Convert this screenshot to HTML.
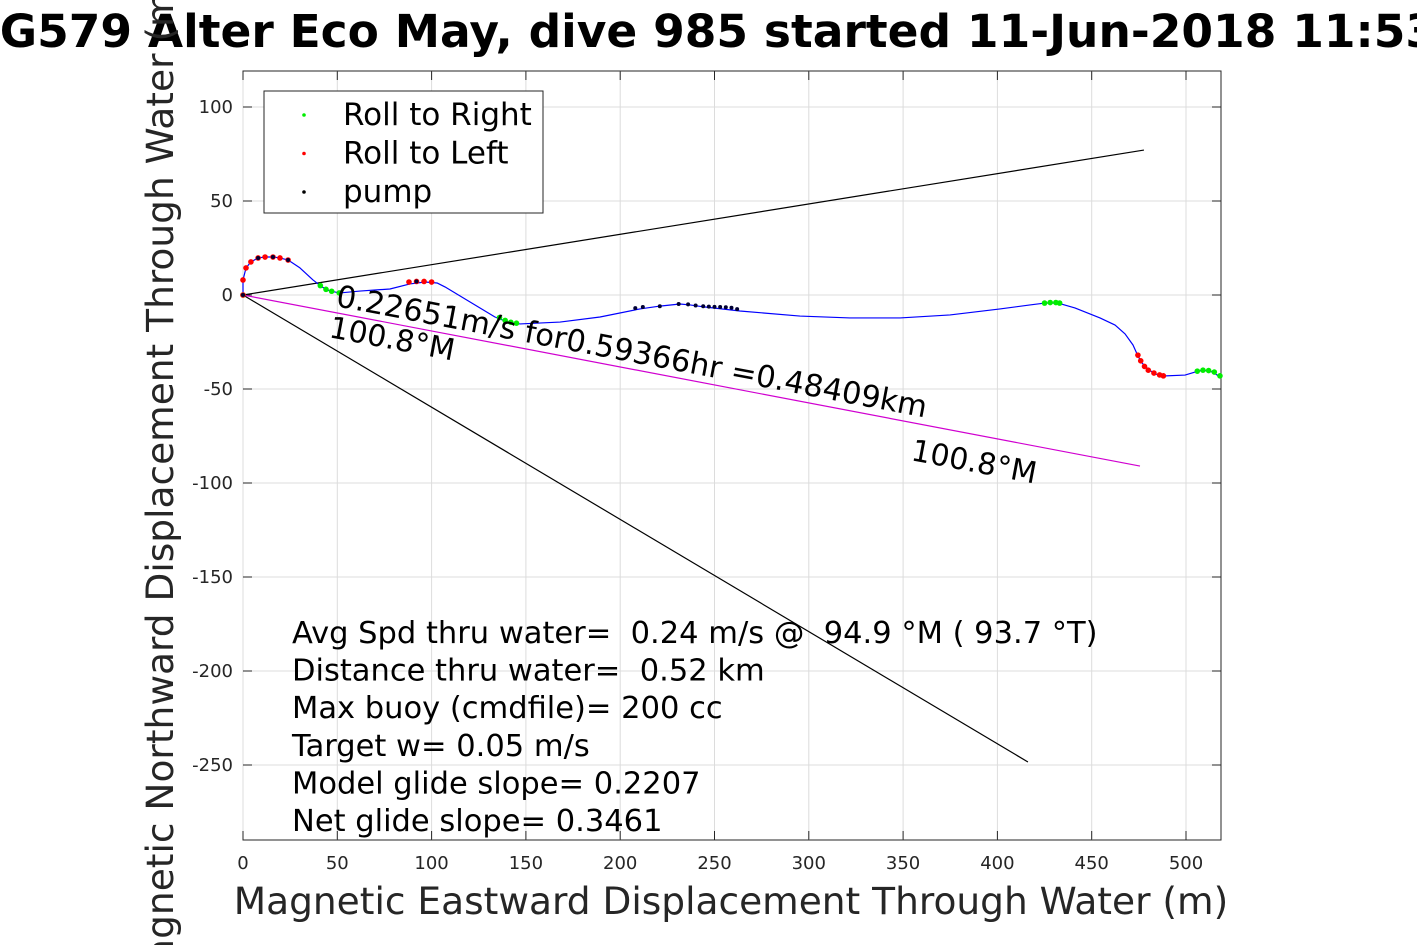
<!DOCTYPE html>
<html><head><meta charset="utf-8"><style>
body{margin:0;background:#fff;width:1417px;height:945px;overflow:hidden;font-family:"Liberation Sans","DejaVu Sans",sans-serif}
svg text{font-family:"DejaVu Sans","Liberation Sans",sans-serif;white-space:pre}
</style></head><body>
<svg id="c" width="1417" height="945" xmlns="http://www.w3.org/2000/svg"></svg>
<script>
const xTicks=[0,50,100,150,200,250,300,350,400,450,500];
const yTicks=[100,50,0,-50,-100,-150,-200,-250];
const trackX=[0,0,1.6,4.2,8.0,11.7,15.9,19.6,23.9,30.2,37.1,41.9,46.1,51.4,62.0,77.9,88.5,96.5,102.9,107.1,120.4,133.6,141.6,146.9,168.1,189.3,210.5,221.1,231.7,237.0,245.0,263.5,295.3,321.8,348.4,374.9,401.4,417.3,425.2,432.1,441.1,454.4,462.4,467.7,471.9,474.5,476.7,479.9,483.6,487.8,499.5,504.8,509.0,514.3,518.6];
const trackY=[0,8,14.4,17.6,19.7,20.2,20.2,19.7,18.6,14.4,8,4.3,2.1,1.1,2.1,3.2,5.9,6.9,6.4,4.3,-3.7,-11.7,-14.9,-15.4,-14.4,-11.7,-7.4,-5.9,-4.8,-5.3,-6.4,-8.5,-11.2,-12.2,-12.2,-10.6,-7.4,-5.3,-4.3,-4.3,-6.9,-12.2,-16,-20.7,-26.6,-32.4,-36.2,-39.4,-42,-43.1,-42.6,-41,-39.9,-41,-44.1];
const rightX=[0,41,44,47,51,136,139,142,145,425,428,431,433,506,509,512,515,518];
const rightY=[0,5,3,2,1.1,-12,-13.5,-14.5,-15,-4.3,-4.0,-4.0,-4.3,-40.5,-40,-40.2,-41,-43];
const leftX=[0,0,1.6,4.2,8,11.7,15.9,19.6,23.9,88,92,96,100,474.5,476,478,480,483,486,488];
const leftY=[0,8,14.4,17.6,19.7,20.2,20.2,19.7,18.6,6.9,7.2,7.2,6.9,-32,-35,-38,-40,-41.5,-42.5,-43];
const pumpX=[0,8,15.9,23.9,92,208,212,221,231,236,240,244,247,250,253,256,259,262];
const pumpY=[0,19.7,20.2,18.6,7.2,-7,-6.4,-6,-4.8,-5,-5.6,-6,-6.2,-6.3,-6.4,-6.5,-6.8,-7.5];
const upperLine=[[0,0],[477.7,77.1]];
const lowerLine=[[0,0],[416.2,-248.4]];
const headingLine=[[0,0],[475.6,-91.0]];
const statLines=["Avg Spd thru water=  0.24 m/s @  94.9 °M ( 93.7 °T)","Distance thru water=  0.52 km","Max buoy (cmdfile)= 200 cc","Target w= 0.05 m/s","Model glide slope= 0.2207","Net glide slope= 0.3461"];

const L=243,R=1221,T=71,B=840,X0=0,X1=(R-L)/1.886,Y1=(295-T)/1.88,Y0=-(B-295)/1.88;
const sx=v=>L+(v-X0)/(X1-X0)*(R-L), sy=v=>B-(v-Y0)/(Y1-Y0)*(B-T);
const svg=document.getElementById('c');const NS='http://www.w3.org/2000/svg';
function el(t,a,txt){const e=document.createElementNS(NS,t);for(const k in a)e.setAttribute(k,a[k]);if(txt!==undefined)e.textContent=txt;svg.appendChild(e);return e;}
let e=el('rect',{x:L,y:T,width:R-L,height:B-T,fill:'#fff',stroke:'#262626','stroke-width':1});


xTicks.forEach(v=>{const x=sx(v);
 let g=el('line',{x1:x,x2:x,y1:T,y2:B,stroke:'#dcdcdc','stroke-width':1});
 
 
 el('line',{x1:x,x2:x,y1:B,y2:B-9,stroke:'#262626'});el('line',{x1:x,x2:x,y1:T,y2:T+9,stroke:'#262626'});
 let t=el('text',{x:x,y:869,'text-anchor':'middle','font-size':18,fill:'#262626'},String(v));
 
 });
yTicks.forEach(v=>{const y=sy(v);
 let g=el('line',{x1:L,x2:R,y1:y,y2:y,stroke:'#dcdcdc','stroke-width':1});
 
 
 el('line',{x1:L,x2:L+9,y1:y,y2:y,stroke:'#262626'});el('line',{x1:R,x2:R-9,y1:y,y2:y,stroke:'#262626'});
 let t=el('text',{x:233,y:y+6,'text-anchor':'end','font-size':18,fill:'#262626'},String(v));
 
 });
function seg(p,c,n){let s=el('line',{x1:sx(p[0][0]),y1:sy(p[0][1]),x2:sx(p[1][0]),y2:sy(p[1][1]),stroke:c,'stroke-width':1.2});
 
 }
seg(upperLine,'#000','upper-bound-line');seg(lowerLine,'#000','lower-bound-line');seg(headingLine,'#d000d0','heading-line');
let tr=el('polyline',{points:trackX.map((x,i)=>sx(x)+','+sy(trackY[i])).join(' '),fill:'none',stroke:'#0000ff','stroke-width':1.2,'stroke-linejoin':'round'});


function dots(X,Y,c,n,r){X.forEach((x,i)=>{let d=el('circle',{cx:sx(x),cy:sy(Y[i]),r:r,fill:c});
 
 });}
dots(rightX,rightY,'#00ee00','roll-right-point',2.8);dots(leftX,leftY,'#ff0000','roll-left-point',2.8);dots(pumpX,pumpY,'#000033','pump-point',2);
let a1=el('text',{x:335,y:306,'font-size':30.5,fill:'#000',transform:'rotate(10.7 335 306)'},'0.22651m/s for0.59366hr =0.48409km');

let a2=el('text',{x:328,y:337,'font-size':30,fill:'#000',transform:'rotate(10.7 328 337)'},'100.8°M');

let a3=el('text',{x:910,y:460,'font-size':30,fill:'#000',transform:'rotate(10.7 910 460)'},'100.8°M');

statLines.forEach((s,i)=>{let t=el('text',{x:292,y:643+i*37.6,'font-size':30.5,fill:'#000'},s);
 
 });
let lg=el('rect',{x:264,y:91,width:279,height:122,fill:'#fff',stroke:'#262626','stroke-width':1});

[['Roll to Right','#00ee00'],['Roll to Left','#ff0000'],['pump','#000']].forEach((d,i)=>{const y=115+i*38.5;
 el('circle',{cx:304,cy:y,r:1.8,fill:d[1]});
 let t=el('text',{x:343,y:y+10,'font-size':31,fill:'#000'},d[0]);
 
 });
let ti=el('text',{x:702,y:47,'text-anchor':'middle','font-size':45.5,'font-weight':'bold',fill:'#000'},'SG579 Alter Eco May, dive 985 started 11-Jun-2018 11:53');

let xl=el('text',{x:731,y:914,'text-anchor':'middle','font-size':37.5,fill:'#262626'},'Magnetic Eastward Displacement Through Water (m)');

let yl=el('text',{x:0,y:0,'text-anchor':'middle','font-size':37.5,fill:'#262626',transform:'translate(173 485) rotate(-90)'},'Magnetic Northward Displacement Through Water (m)');

</script>
</body></html>
